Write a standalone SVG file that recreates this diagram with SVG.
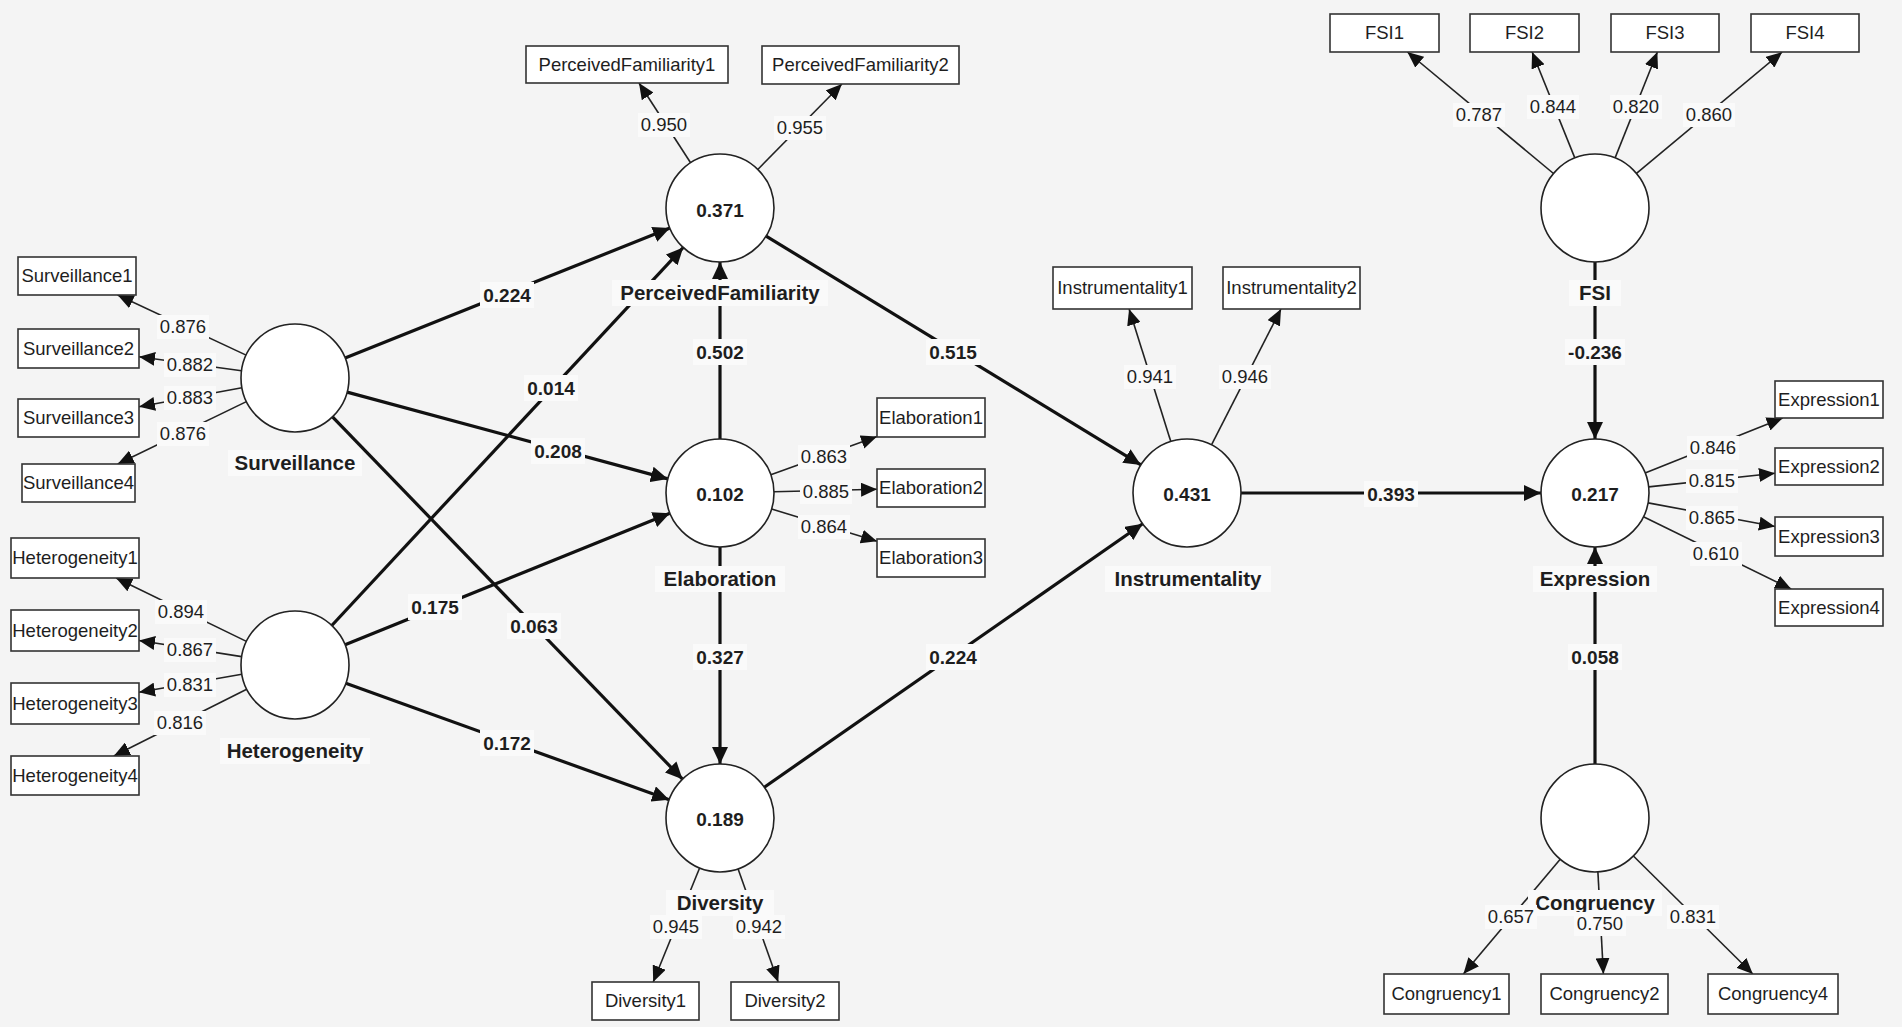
<svg xmlns="http://www.w3.org/2000/svg" width="1902" height="1027" viewBox="0 0 1902 1027">
<style>
.lv{fill:#fff;stroke:#222;stroke-width:1.6}
.mv{fill:#fff;stroke:#333;stroke-width:1.6}
text{font-family:"Liberation Sans",Arial,sans-serif;fill:#1e1e1e;text-anchor:middle}
.t{font-size:18.5px}
.b{font-size:19px;font-weight:bold}
.n{font-size:20.5px;font-weight:bold}
.ld{stroke:#222;stroke-width:1.6;fill:none;marker-end:url(#ah)}
.st{stroke:#111;stroke-width:3.2;fill:none;marker-end:url(#ahb)}
.lb{fill:#fafafa}
</style>
<defs>
<marker id="ah" markerUnits="userSpaceOnUse" markerWidth="16" markerHeight="14" refX="16" refY="7" orient="auto">
<path d="M0,0 L16,7 L0,14 z" fill="#111"/>
</marker>
<marker id="ahb" markerUnits="userSpaceOnUse" markerWidth="17" markerHeight="16" refX="17" refY="8" orient="auto">
<path d="M0,0 L17,8 L0,16 z" fill="#111"/>
</marker>
</defs>
<rect x="0" y="0" width="1902" height="1027" fill="#f4f4f4"/>

<g id="connectors">
<line class="st" x1="345.1" y1="358" x2="670" y2="228"/>
<line class="st" x1="347.1" y1="392.1" x2="667.9" y2="478.9"/>
<line class="st" x1="332.5" y1="416.8" x2="682.5" y2="779.2"/>
<line class="st" x1="331.8" y1="625.5" x2="683.2" y2="247.5"/>
<line class="st" x1="345.1" y1="644.7" x2="669.9" y2="513.3"/>
<line class="st" x1="345.8" y1="683.3" x2="669.2" y2="799.7"/>
<line class="st" x1="720" y1="439" x2="720" y2="262"/>
<line class="st" x1="720" y1="547" x2="720" y2="764"/>
<line class="st" x1="766.1" y1="236.1" x2="1140.9" y2="464.9"/>
<line class="st" x1="764.3" y1="787.2" x2="1142.7" y2="523.8"/>
<line class="st" x1="1241" y1="493" x2="1541" y2="493"/>
<line class="st" x1="1595" y1="262" x2="1595" y2="439"/>
<line class="st" x1="1595" y1="764" x2="1595" y2="547"/>
<line class="ld" x1="246.1" y1="355.1" x2="117.6" y2="295"/>
<line class="ld" x1="241.5" y1="370.7" x2="139" y2="356.7"/>
<line class="ld" x1="241.9" y1="387.8" x2="139" y2="406.8"/>
<line class="ld" x1="246.4" y1="401.6" x2="117.7" y2="464"/>
<line class="ld" x1="246.4" y1="641.4" x2="116.1" y2="578"/>
<line class="ld" x1="241.7" y1="656.6" x2="139" y2="640.5"/>
<line class="ld" x1="241.8" y1="674.3" x2="139" y2="692.3"/>
<line class="ld" x1="246.7" y1="689.2" x2="113.8" y2="756"/>
<line class="ld" x1="690.6" y1="162.7" x2="639" y2="83"/>
<line class="ld" x1="757.8" y1="169.5" x2="841.9" y2="84"/>
<line class="ld" x1="770.8" y1="474.8" x2="877" y2="436.6"/>
<line class="ld" x1="774" y1="491.7" x2="877" y2="489.3"/>
<line class="ld" x1="771.6" y1="508.9" x2="877" y2="541.3"/>
<line class="ld" x1="1170.8" y1="441.5" x2="1129.1" y2="309"/>
<line class="ld" x1="1211.5" y1="444.9" x2="1281" y2="309"/>
<line class="ld" x1="1553.5" y1="173.5" x2="1407.4" y2="52"/>
<line class="ld" x1="1574.8" y1="157.9" x2="1532.1" y2="52"/>
<line class="ld" x1="1615.1" y1="157.9" x2="1657.4" y2="52"/>
<line class="ld" x1="1636.5" y1="173.4" x2="1782.2" y2="52"/>
<line class="ld" x1="1645.1" y1="473" x2="1782.7" y2="418"/>
<line class="ld" x1="1648.7" y1="486.9" x2="1775" y2="473.2"/>
<line class="ld" x1="1648.1" y1="502.9" x2="1775" y2="526.5"/>
<line class="ld" x1="1643.5" y1="516.7" x2="1791.2" y2="589"/>
<line class="ld" x1="699.6" y1="868" x2="653.2" y2="982"/>
<line class="ld" x1="738.1" y1="868.9" x2="778.2" y2="982"/>
<line class="ld" x1="1560.2" y1="859.3" x2="1463.4" y2="974"/>
<line class="ld" x1="1597.9" y1="871.9" x2="1603.4" y2="974"/>
<line class="ld" x1="1633.4" y1="856" x2="1752.8" y2="974"/>
</g>

<g id="n-surveillance">
<circle class="lv" cx="295" cy="378" r="54"/>
<rect class="lb" x="228" y="450" width="134" height="26"/>
<text class="n" x="295" y="470">Surveillance</text>
</g>
<g id="n-heterogeneity">
<circle class="lv" cx="295" cy="665" r="54"/>
<rect class="lb" x="220" y="738" width="150" height="26"/>
<text class="n" x="295" y="758">Heterogeneity</text>
</g>
<g id="n-perceivedfamiliarity">
<circle class="lv" cx="720" cy="208" r="54"/>
<text class="b" x="720" y="217">0.371</text>
<rect class="lb" x="612" y="280" width="216" height="26"/>
<text class="n" x="720" y="300">PerceivedFamiliarity</text>
</g>
<g id="n-elaboration">
<circle class="lv" cx="720" cy="493" r="54"/>
<text class="b" x="720" y="501">0.102</text>
<rect class="lb" x="655" y="566" width="130" height="26"/>
<text class="n" x="720" y="586">Elaboration</text>
</g>
<g id="n-diversity">
<circle class="lv" cx="720" cy="818" r="54"/>
<text class="b" x="720" y="826">0.189</text>
<rect class="lb" x="666" y="890" width="108" height="26"/>
<text class="n" x="720" y="910">Diversity</text>
</g>
<g id="n-instrumentality">
<circle class="lv" cx="1187" cy="493" r="54"/>
<text class="b" x="1187" y="501">0.431</text>
<rect class="lb" x="1105" y="566" width="166" height="26"/>
<text class="n" x="1188" y="586">Instrumentality</text>
</g>
<g id="n-fsi">
<circle class="lv" cx="1595" cy="208" r="54"/>
<rect class="lb" x="1569" y="280" width="52" height="26"/>
<text class="n" x="1595" y="300">FSI</text>
</g>
<g id="n-expression">
<circle class="lv" cx="1595" cy="493" r="54"/>
<text class="b" x="1595" y="501">0.217</text>
<rect class="lb" x="1533" y="566" width="124" height="26"/>
<text class="n" x="1595" y="586">Expression</text>
</g>
<g id="n-congruency">
<circle class="lv" cx="1595" cy="818" r="54"/>
<rect class="lb" x="1528" y="890" width="134" height="26"/>
<text class="n" x="1595" y="910">Congruency</text>
</g>

<g id="indicators">
<g id="i-pf1"><rect class="mv" x="526" y="46" width="202" height="37"/><text class="t" x="627" y="71">PerceivedFamiliarity1</text></g>
<g id="i-pf2"><rect class="mv" x="762" y="46" width="197" height="38"/><text class="t" x="860.5" y="71">PerceivedFamiliarity2</text></g>
<g id="i-s1"><rect class="mv" x="18" y="257" width="118" height="38"/><text class="t" x="77" y="282">Surveillance1</text></g>
<g id="i-s2"><rect class="mv" x="18" y="329" width="121" height="39"/><text class="t" x="78.5" y="355">Surveillance2</text></g>
<g id="i-s3"><rect class="mv" x="18" y="399" width="121" height="38"/><text class="t" x="78.5" y="424">Surveillance3</text></g>
<g id="i-s4"><rect class="mv" x="22" y="464" width="113" height="38"/><text class="t" x="78.5" y="489">Surveillance4</text></g>
<g id="i-h1"><rect class="mv" x="11" y="538" width="128" height="40"/><text class="t" x="75" y="564">Heterogeneity1</text></g>
<g id="i-h2"><rect class="mv" x="11" y="610" width="128" height="41"/><text class="t" x="75" y="637">Heterogeneity2</text></g>
<g id="i-h3"><rect class="mv" x="11" y="683" width="128" height="41"/><text class="t" x="75" y="710">Heterogeneity3</text></g>
<g id="i-h4"><rect class="mv" x="11" y="756" width="128" height="39"/><text class="t" x="75" y="782">Heterogeneity4</text></g>
<g id="i-in1"><rect class="mv" x="1053" y="267" width="139" height="42"/><text class="t" x="1122.5" y="294">Instrumentality1</text></g>
<g id="i-in2"><rect class="mv" x="1223" y="267" width="137" height="42"/><text class="t" x="1291.5" y="294">Instrumentality2</text></g>
<g id="i-e1"><rect class="mv" x="877" y="398" width="108" height="39"/><text class="t" x="931" y="424">Elaboration1</text></g>
<g id="i-e2"><rect class="mv" x="877" y="469" width="108" height="38"/><text class="t" x="931" y="494">Elaboration2</text></g>
<g id="i-e3"><rect class="mv" x="877" y="539" width="108" height="38"/><text class="t" x="931" y="564">Elaboration3</text></g>
<g id="i-f1"><rect class="mv" x="1330" y="14" width="109" height="38"/><text class="t" x="1384.5" y="39">FSI1</text></g>
<g id="i-f2"><rect class="mv" x="1470" y="14" width="109" height="38"/><text class="t" x="1524.5" y="39">FSI2</text></g>
<g id="i-f3"><rect class="mv" x="1611" y="14" width="108" height="38"/><text class="t" x="1665" y="39">FSI3</text></g>
<g id="i-f4"><rect class="mv" x="1751" y="14" width="108" height="38"/><text class="t" x="1805" y="39">FSI4</text></g>
<g id="i-x1"><rect class="mv" x="1775" y="381" width="108" height="37"/><text class="t" x="1829" y="406">Expression1</text></g>
<g id="i-x2"><rect class="mv" x="1775" y="448" width="108" height="37"/><text class="t" x="1829" y="473">Expression2</text></g>
<g id="i-x3"><rect class="mv" x="1775" y="517" width="108" height="39"/><text class="t" x="1829" y="543">Expression3</text></g>
<g id="i-x4"><rect class="mv" x="1775" y="589" width="108" height="37"/><text class="t" x="1829" y="614">Expression4</text></g>
<g id="i-d1"><rect class="mv" x="592" y="982" width="107" height="38"/><text class="t" x="645.5" y="1007">Diversity1</text></g>
<g id="i-d2"><rect class="mv" x="731" y="982" width="108" height="38"/><text class="t" x="785" y="1007">Diversity2</text></g>
<g id="i-c1"><rect class="mv" x="1384" y="974" width="125" height="40"/><text class="t" x="1446.5" y="1000">Congruency1</text></g>
<g id="i-c2"><rect class="mv" x="1541" y="974" width="127" height="40"/><text class="t" x="1604.5" y="1000">Congruency2</text></g>
<g id="i-c4"><rect class="mv" x="1708" y="974" width="130" height="40"/><text class="t" x="1773" y="1000">Congruency4</text></g>
</g>

<g id="connector-labels">
<rect class="lb" x="480" y="282" width="54" height="26"/><text class="b" x="507" y="302">0.224</text>
<rect class="lb" x="524" y="375" width="54" height="26"/><text class="b" x="551" y="395">0.014</text>
<rect class="lb" x="531" y="438" width="54" height="26"/><text class="b" x="558" y="458">0.208</text>
<rect class="lb" x="408" y="594" width="54" height="26"/><text class="b" x="435" y="614">0.175</text>
<rect class="lb" x="507" y="613" width="54" height="26"/><text class="b" x="534" y="633">0.063</text>
<rect class="lb" x="480" y="730" width="54" height="26"/><text class="b" x="507" y="750">0.172</text>
<rect class="lb" x="693" y="339" width="54" height="26"/><text class="b" x="720" y="359">0.502</text>
<rect class="lb" x="693" y="644" width="54" height="26"/><text class="b" x="720" y="664">0.327</text>
<rect class="lb" x="926" y="339" width="54" height="26"/><text class="b" x="953" y="359">0.515</text>
<rect class="lb" x="926" y="644" width="54" height="26"/><text class="b" x="953" y="664">0.224</text>
<rect class="lb" x="1364" y="481" width="54" height="26"/><text class="b" x="1391" y="501">0.393</text>
<rect class="lb" x="1565" y="339" width="60" height="26"/><text class="b" x="1595" y="359">-0.236</text>
<rect class="lb" x="1568" y="644" width="54" height="26"/><text class="b" x="1595" y="664">0.058</text>
<rect class="lb" x="157" y="315" width="52" height="24"/><text class="t" x="183" y="333">0.876</text>
<rect class="lb" x="164" y="353" width="52" height="24"/><text class="t" x="190" y="371">0.882</text>
<rect class="lb" x="164" y="386" width="52" height="24"/><text class="t" x="190" y="404">0.883</text>
<rect class="lb" x="157" y="422" width="52" height="24"/><text class="t" x="183" y="440">0.876</text>
<rect class="lb" x="155" y="600" width="52" height="24"/><text class="t" x="181" y="618">0.894</text>
<rect class="lb" x="164" y="638" width="52" height="24"/><text class="t" x="190" y="656">0.867</text>
<rect class="lb" x="164" y="673" width="52" height="24"/><text class="t" x="190" y="691">0.831</text>
<rect class="lb" x="154" y="711" width="52" height="24"/><text class="t" x="180" y="729">0.816</text>
<rect class="lb" x="638" y="113" width="52" height="24"/><text class="t" x="664" y="131">0.950</text>
<rect class="lb" x="774" y="116" width="52" height="24"/><text class="t" x="800" y="134">0.955</text>
<rect class="lb" x="798" y="445" width="52" height="24"/><text class="t" x="824" y="463">0.863</text>
<rect class="lb" x="800" y="480" width="52" height="24"/><text class="t" x="826" y="498">0.885</text>
<rect class="lb" x="798" y="515" width="52" height="24"/><text class="t" x="824" y="533">0.864</text>
<rect class="lb" x="1124" y="365" width="52" height="24"/><text class="t" x="1150" y="383">0.941</text>
<rect class="lb" x="1219" y="365" width="52" height="24"/><text class="t" x="1245" y="383">0.946</text>
<rect class="lb" x="1453" y="103" width="52" height="24"/><text class="t" x="1479" y="121">0.787</text>
<rect class="lb" x="1527" y="95" width="52" height="24"/><text class="t" x="1553" y="113">0.844</text>
<rect class="lb" x="1610" y="95" width="52" height="24"/><text class="t" x="1636" y="113">0.820</text>
<rect class="lb" x="1683" y="103" width="52" height="24"/><text class="t" x="1709" y="121">0.860</text>
<rect class="lb" x="1687" y="436" width="52" height="24"/><text class="t" x="1713" y="454">0.846</text>
<rect class="lb" x="1686" y="469" width="52" height="24"/><text class="t" x="1712" y="487">0.815</text>
<rect class="lb" x="1686" y="506" width="52" height="24"/><text class="t" x="1712" y="524">0.865</text>
<rect class="lb" x="1690" y="542" width="52" height="24"/><text class="t" x="1716" y="560">0.610</text>
<rect class="lb" x="650" y="915" width="52" height="24"/><text class="t" x="676" y="933">0.945</text>
<rect class="lb" x="733" y="915" width="52" height="24"/><text class="t" x="759" y="933">0.942</text>
<rect class="lb" x="1485" y="905" width="52" height="24"/><text class="t" x="1511" y="923">0.657</text>
<rect class="lb" x="1574" y="912" width="52" height="24"/><text class="t" x="1600" y="930">0.750</text>
<rect class="lb" x="1667" y="905" width="52" height="24"/><text class="t" x="1693" y="923">0.831</text>
</g>
</svg>
